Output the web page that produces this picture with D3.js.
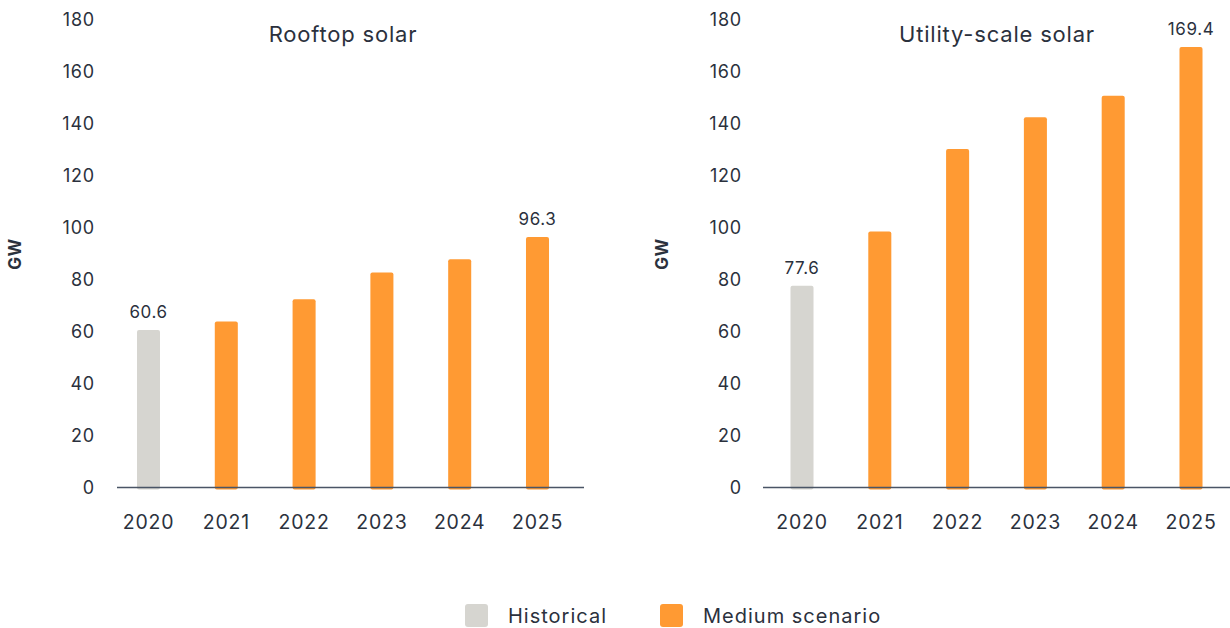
<!DOCTYPE html>
<html>
<head>
<meta charset="utf-8">
<script src="https://cdn.jsdelivr.net/npm/d3@7"></script>
<style>
  body { margin: 0; background: #fff; }
  svg { display: block; font-family: Inter, "Open Sans", sans-serif; }
</style>
</head>
<body>
<div id="chart"></div>
<script>
const years = ['2020', '2021', '2022', '2023', '2024', '2025'];
const scenario = ['Historical', 'Medium scenario', 'Medium scenario', 'Medium scenario', 'Medium scenario', 'Medium scenario'];
const rooftop = [60.6, 63.8, 72.4, 82.7, 87.8, 96.3];
const utility = [77.6, 98.5, 130.2, 142.4, 150.7, 169.4];
const yTicks = [0, 20, 40, 60, 80, 100, 120, 140, 160, 180];
const legendItems = ['Historical', 'Medium scenario'];

const W = 1230;
const H = 628;
const textColor = '#2b313d';
const color = d3.scaleOrdinal()
  .domain(legendItems)
  .range(['#d6d5d0', '#ff9a33']);

const svg = d3.select('#chart')
  .append('svg')
  .attr('width', W)
  .attr('height', H);

// y scale is shared by both panels
const y = d3.scaleLinear().domain([0, 180]).range([487.5, 19.5]);

const panels = [
  { title: 'Rooftop solar', values: rooftop, band: [109.6, 576.4], line: [117, 584], tickX: 95, gwX: 15, titleX: 343 },
  { title: 'Utility-scale solar', values: utility, band: [763.1, 1229.9], line: [763, 1230], tickX: 742, gwX: 662, titleX: 997 },
];

panels.forEach((p) => {
  const g = svg.append('g');
  const x = d3.scaleBand()
    .domain(years)
    .range(p.band)
    .paddingInner(0.704)
    .paddingOuter(0.352);

  // y axis labels
  const yAxis = g.append('g')
    .attr('transform', `translate(${p.tickX},0)`)
    .call(d3.axisLeft(y).tickValues(yTicks).tickSize(0).tickPadding(0));
  yAxis.select('.domain').remove();
  yAxis.selectAll('text')
    .style('font-size', '18px')
    .style('letter-spacing', '0.8px')
    .style('font-family', 'Inter, sans-serif')
    .attr('fill', textColor);

  // x axis labels
  const xAxis = g.append('g')
    .attr('transform', `translate(0,${y(0)})`)
    .call(d3.axisBottom(x).tickSize(0).tickPadding(28));
  xAxis.select('.domain').remove();
  xAxis.selectAll('text')
    .style('font-size', '19.5px')
    .style('letter-spacing', '0.8px')
    .style('font-family', 'Inter, sans-serif')
    .attr('fill', textColor);

  // bars
  g.selectAll('rect.bar')
    .data(p.values)
    .enter()
    .append('rect')
    .attr('class', 'bar')
    .attr('x', (d, i) => x(years[i]))
    .attr('width', x.bandwidth())
    .attr('y', d => y(d))
    .attr('height', d => y(0) - y(d) + 2)
    .attr('rx', 2)
    .attr('fill', (d, i) => color(scenario[i]));

  // baseline
  g.append('line')
    .attr('x1', p.line[0])
    .attr('x2', p.line[1])
    .attr('y1', y(0))
    .attr('y2', y(0))
    .attr('stroke', '#4a5566')
    .attr('stroke-width', 1.5);

  // value labels on first and last bars
  const ends = [0, p.values.length - 1];
  g.selectAll('text.value')
    .data(ends)
    .enter()
    .append('text')
    .attr('class', 'value')
    .attr('x', i => x(years[i]) + x.bandwidth() / 2)
    .attr('y', i => y(p.values[i]) - 12)
    .attr('text-anchor', 'middle')
    .style('font-size', '17px')
    .style('letter-spacing', '0.6px')
    .attr('fill', textColor)
    .text(i => p.values[i].toFixed(1));

  // title
  g.append('text')
    .attr('x', p.titleX)
    .attr('y', 42)
    .attr('text-anchor', 'middle')
    .style('font-size', '22px')
    .style('letter-spacing', '0.8px')
    .attr('fill', textColor)
    .text(p.title);

  // y axis title
  g.append('text')
    .attr('transform', `translate(${p.gwX + 6},254) rotate(-90)`)
    .attr('text-anchor', 'middle')
    .style('font-size', '17px')
    .style('font-weight', 'bold')
    .style('letter-spacing', '0.5px')
    .attr('fill', textColor)
    .text('GW');
});

// legend
const legendX = [465, 660];
const legend = svg.append('g')
  .selectAll('g')
  .data(legendItems)
  .enter()
  .append('g')
  .attr('transform', (d, i) => `translate(${legendX[i]},604)`);

legend.append('rect')
  .attr('width', 23)
  .attr('height', 23)
  .attr('rx', 3)
  .attr('fill', d => color(d));

legend.append('text')
  .attr('x', 43)
  .attr('y', 11.5)
  .attr('dy', '0.35em')
  .style('font-size', '20px')
  .style('letter-spacing', '1px')
  .attr('fill', textColor)
  .text(d => d);
</script>
</body>
</html>
